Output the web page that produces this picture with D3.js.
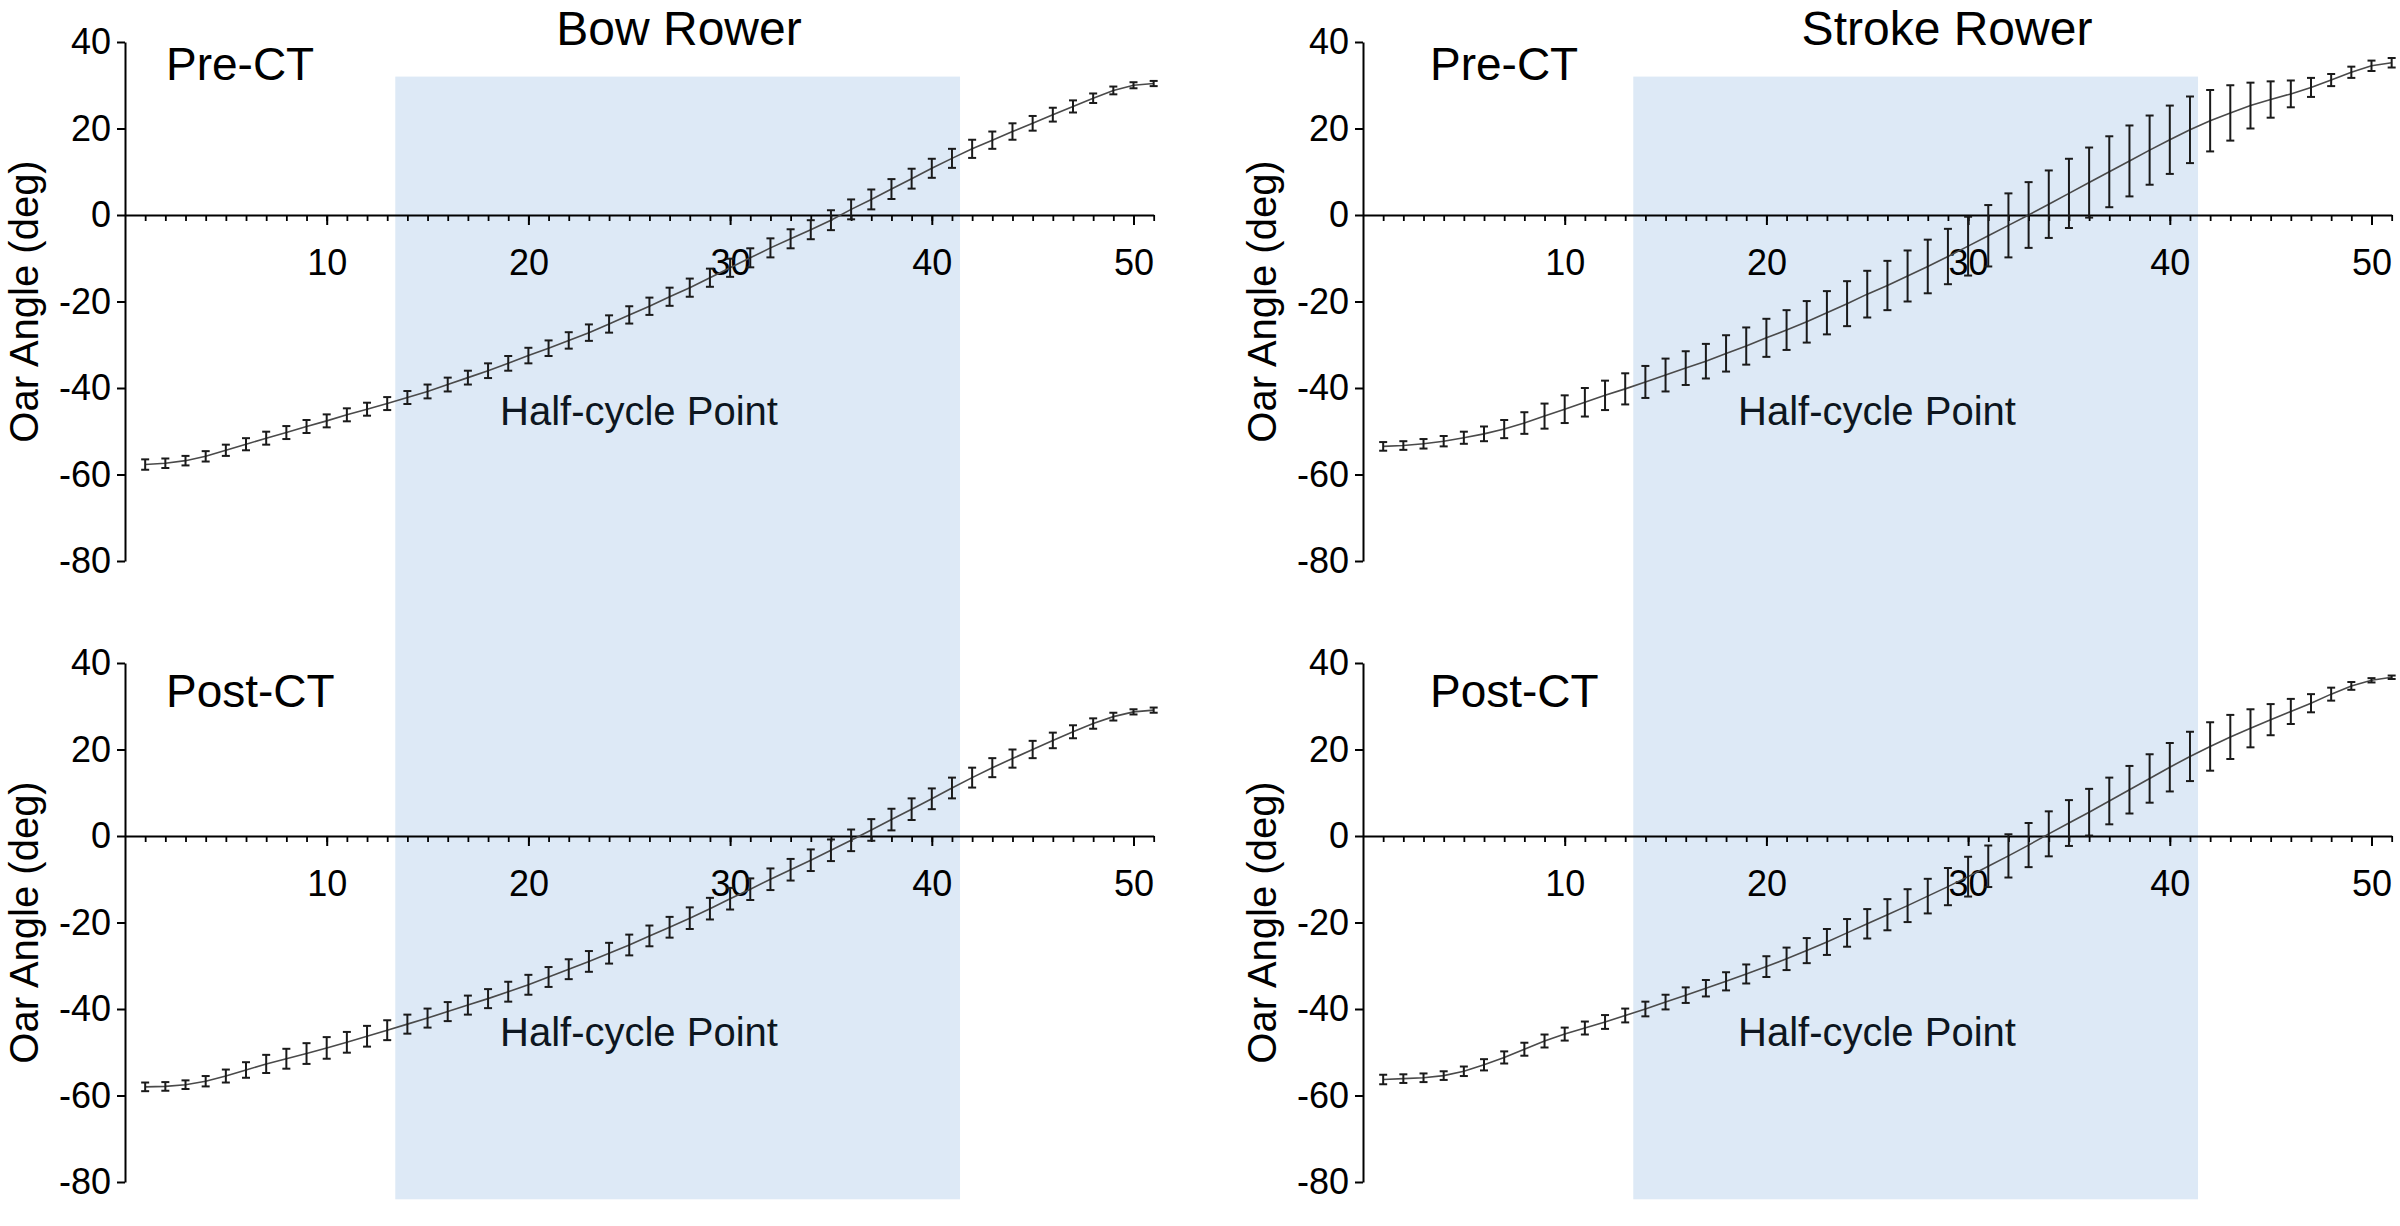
<!DOCTYPE html>
<html>
<head>
<meta charset="utf-8">
<script src="https://cdn.jsdelivr.net/npm/d3@7"></script>
<style>
    body { margin: 0; background: #fff; }
    svg { display: block; font-family: "Liberation Sans", Arial, sans-serif; }
</style>
</head>
<body>
<script>
// Stroke cycle samples 1..51
var samples = d3.range(1, 52);

// Mean oar angle (deg) and error bar half-widths
var bowPreMean = [-57.7, -57.4, -56.8, -55.8, -54.4, -53.0, -51.6, -50.3, -48.9, -47.6,
    -46.2, -44.9, -43.6, -42.2, -40.8, -39.2, -37.6, -36.0, -34.3, -32.5,
    -30.8, -29.0, -27.2, -25.2, -23.1, -21.1, -18.9, -16.8, -14.5, -12.2,
    -9.9, -7.6, -5.5, -3.4, -1.2, 1.3, 3.6, 6.0, 8.4, 10.8,
    13.1, 15.3, 17.3, 19.3, 21.2, 23.2, 25.1, 27.0, 28.8, 30.0, 30.4];
var bowPreErr = [1.2, 1.1, 1.1, 1.2, 1.3, 1.4, 1.5, 1.5, 1.5, 1.5,
    1.5, 1.5, 1.5, 1.5, 1.6, 1.6, 1.6, 1.7, 1.7, 1.8,
    1.8, 1.9, 1.9, 2.0, 2.0, 2.0, 2.1, 2.1, 2.1, 2.1,
    2.2, 2.2, 2.2, 2.2, 2.3, 2.3, 2.3, 2.3, 2.3, 2.2,
    2.2, 2.1, 2.0, 1.9, 1.7, 1.6, 1.4, 1.1, 0.9, 0.7, 0.6];

var bowPostMean = [-58.0, -57.9, -57.5, -56.7, -55.5, -54.1, -52.7, -51.5, -50.3, -49.0,
    -47.7, -46.3, -44.9, -43.5, -42.1, -40.6, -39.1, -37.6, -36.0, -34.4,
    -32.6, -30.8, -29.0, -27.1, -25.2, -23.1, -21.1, -19.0, -16.8, -14.5,
    -12.3, -10.0, -7.8, -5.6, -3.3, -1.0, 1.4, 3.8, 6.2, 8.6,
    11.1, 13.5, 15.8, 17.9, 20.0, 22.1, 24.1, 26.0, 27.6, 28.7, 29.1];
var bowPostErr = [1.0, 1.0, 1.0, 1.2, 1.5, 1.8, 2.1, 2.3, 2.4, 2.5,
    2.4, 2.4, 2.3, 2.2, 2.2, 2.2, 2.2, 2.2, 2.3, 2.3,
    2.3, 2.3, 2.4, 2.4, 2.4, 2.4, 2.4, 2.5, 2.5, 2.5,
    2.5, 2.5, 2.5, 2.5, 2.5, 2.5, 2.5, 2.5, 2.5, 2.4,
    2.4, 2.3, 2.2, 2.1, 2.0, 1.8, 1.5, 1.2, 0.9, 0.6, 0.6];

var strokePreMean = [-53.5, -53.3, -52.9, -52.3, -51.5, -50.6, -49.5, -48.1, -46.5, -44.9,
    -43.3, -41.7, -40.2, -38.6, -37.0, -35.4, -33.8, -32.0, -30.3, -28.4,
    -26.6, -24.7, -22.6, -20.5, -18.3, -16.3, -14.1, -11.9, -9.6, -7.2,
    -4.8, -2.4, 0.0, 2.5, 5.0, 7.5, 10.0, 12.5, 15.0, 17.4,
    19.7, 21.8, 23.6, 25.3, 26.7, 28.0, 29.5, 31.2, 33.0, 34.5, 35.2];
var strokePreErr = [1.0, 1.0, 1.1, 1.2, 1.4, 1.7, 2.1, 2.5, 2.9, 3.2,
    3.3, 3.4, 3.6, 3.7, 3.8, 3.9, 4.0, 4.2, 4.3, 4.4,
    4.6, 4.8, 5.0, 5.2, 5.4, 5.7, 5.9, 6.2, 6.4, 6.8,
    7.1, 7.4, 7.6, 7.8, 8.0, 8.1, 8.2, 8.2, 8.0, 7.9,
    7.7, 7.1, 6.4, 5.3, 4.2, 3.1, 2.2, 1.4, 1.3, 1.2, 1.1];

var strokePostMean = [-56.3, -56.1, -55.9, -55.4, -54.4, -52.9, -51.2, -49.3, -47.4, -45.8,
    -44.4, -43.0, -41.5, -40.0, -38.4, -36.8, -35.2, -33.6, -31.9, -30.2,
    -28.4, -26.5, -24.5, -22.4, -20.3, -18.2, -16.1, -13.9, -11.7, -9.4,
    -7.0, -4.6, -2.1, 0.5, 3.0, 5.5, 8.1, 10.7, 13.3, 15.9,
    18.4, 20.7, 22.9, 24.9, 26.9, 28.8, 30.7, 32.8, 34.7, 36.0, 36.7];
var strokePostErr = [1.1, 1.0, 1.0, 1.0, 1.1, 1.3, 1.4, 1.5, 1.5, 1.5,
    1.5, 1.6, 1.6, 1.7, 1.7, 1.8, 1.9, 2.1, 2.2, 2.4,
    2.6, 2.9, 3.0, 3.2, 3.4, 3.6, 3.8, 4.0, 4.3, 4.6,
    4.8, 5.0, 5.1, 5.2, 5.3, 5.4, 5.4, 5.5, 5.6, 5.6,
    5.7, 5.6, 5.1, 4.4, 3.6, 2.9, 2.1, 1.5, 0.9, 0.5, 0.4];

// Shaded half-cycle window (sample units) and angle extents
var halfCycle = [13.4, 41.4];
var halfCycleAngle = [32, -84];

var yTicks = [-80, -60, -40, -20, 0, 20, 40];
var xMajorTicks = [10, 20, 30, 40, 50];
var columnTitles = ["Bow Rower", "Stroke Rower"];
var rowLabels = ["Pre-CT", "Post-CT"];

var width = 2400, height = 1226;

var svg = d3.select("body").append("svg")
    .attr("width", width)
    .attr("height", height);

// Column / row geometry (pixels)
var colX = [125, 1363];
var pxPerSample = 20.17;
var rowY = [[561, 42], [1182, 663]];

var panels = [
    {col: 0, row: 0, mean: bowPreMean, err: bowPreErr},
    {col: 1, row: 0, mean: strokePreMean, err: strokePreErr},
    {col: 0, row: 1, mean: bowPostMean, err: bowPostErr},
    {col: 1, row: 1, mean: strokePostMean, err: strokePostErr}
];

var makeX = function(col) {
    return d3.scaleLinear().domain([0, 51])
        .range([colX[col], colX[col] + 51 * pxPerSample]);
};
var makeY = function(row) {
    return d3.scaleLinear().domain([-80, 40]).range(rowY[row]);
};

// plain hyphen for negatives, like the original figure
var plainFormat = function(d) { return String(d); };

// Blue half-cycle band spans both rows of each column
[0, 1].forEach(function(col) {
    var x = makeX(col);
    var yTop = makeY(0), yBot = makeY(1);
    svg.append("rect")
        .attr("x", x(halfCycle[0]))
        .attr("width", x(halfCycle[1]) - x(halfCycle[0]))
        .attr("y", yTop(halfCycleAngle[0]))
        .attr("height", yBot(halfCycleAngle[1]) - yTop(halfCycleAngle[0]))
        .style("fill", "#dde9f6");
});

panels.forEach(function(p) {
    var x = makeX(p.col);
    var y = makeY(p.row);
    var g = svg.append("g");

    // y axis
    g.append("g")
        .attr("transform", "translate(" + x(0) + ",0)")
        .call(d3.axisLeft(y).tickValues(yTicks).tickFormat(plainFormat)
            .tickSize(8).tickSizeOuter(0).tickPadding(6))
        .call(function(a) {
            a.select(".domain").attr("stroke-width", 2);
            a.selectAll(".tick line").attr("stroke-width", 2);
            a.selectAll("text").style("font-size", "36px").attr("fill", "#000");
        });

    // x axis along zero line: minor + major ticks
    g.append("g")
        .attr("transform", "translate(0," + y(0) + ")")
        .call(d3.axisBottom(x).tickValues(samples).tickSize(6).tickSizeOuter(0).tickFormat(""))
        .call(function(a) {
            a.select(".domain").attr("stroke-width", 2.2);
            a.selectAll(".tick line").attr("stroke-width", 1.8);
        });
    g.append("g")
        .attr("transform", "translate(0," + y(0) + ")")
        .call(d3.axisBottom(x).tickValues(xMajorTicks).tickFormat(plainFormat)
            .tickSize(10).tickSizeOuter(0).tickPadding(24))
        .call(function(a) {
            a.select(".domain").remove();
            a.selectAll(".tick line").attr("stroke-width", 2);
            a.selectAll("text").style("font-size", "36px").attr("fill", "#000");
        });

    // y axis label
    g.append("text")
        .attr("transform", "translate(" + (x(0) - 87) + "," + y(-20) + ") rotate(-90)")
        .attr("text-anchor", "middle")
        .style("font-size", "40px")
        .text("Oar Angle (deg)");

    // Pre-CT / Post-CT
    g.append("text")
        .attr("x", x(0) + (p.col === 0 ? 41 : 67))
        .attr("y", y(40) + (p.row === 0 ? 38 : 44))
        .style("font-size", "46px")
        .text(rowLabels[p.row]);

    // Half-cycle label
    g.append("text")
        .attr("x", x(0) + 375)
        .attr("y", y(-48.5))
        .style("font-size", "40px")
        .attr("fill", "#0d1620")
        .text("Half-cycle Point");

    var pts = samples.map(function(s, i) {
        return {s: s, m: p.mean[i], e: p.err[i]};
    });

    // mean line
    g.append("path")
        .datum(pts)
        .attr("d", d3.line().x(function(d) { return x(d.s); }).y(function(d) { return y(d.m); }))
        .style("fill", "none")
        .style("stroke", "#4a4a4a")
        .style("stroke-width", 1.6);

    // error bars
    var bars = g.append("g").selectAll("g").data(pts).enter().append("g")
        .style("stroke", "#1a1a1a")
        .style("stroke-width", 2);
    bars.append("line")
        .attr("x1", function(d) { return x(d.s); })
        .attr("x2", function(d) { return x(d.s); })
        .attr("y1", function(d) { return y(d.m + d.e); })
        .attr("y2", function(d) { return y(d.m - d.e); });
    bars.append("line")
        .attr("x1", function(d) { return x(d.s) - 4; })
        .attr("x2", function(d) { return x(d.s) + 4; })
        .attr("y1", function(d) { return y(d.m + d.e); })
        .attr("y2", function(d) { return y(d.m + d.e); });
    bars.append("line")
        .attr("x1", function(d) { return x(d.s) - 4; })
        .attr("x2", function(d) { return x(d.s) + 4; })
        .attr("y1", function(d) { return y(d.m - d.e); })
        .attr("y2", function(d) { return y(d.m - d.e); });
});

// Column titles
var titleX = [679, 1947];
columnTitles.forEach(function(t, i) {
    svg.append("text")
        .attr("x", titleX[i])
        .attr("y", 45)
        .attr("text-anchor", "middle")
        .style("font-size", "48px")
        .text(t);
});
</script>
</body>
</html>
